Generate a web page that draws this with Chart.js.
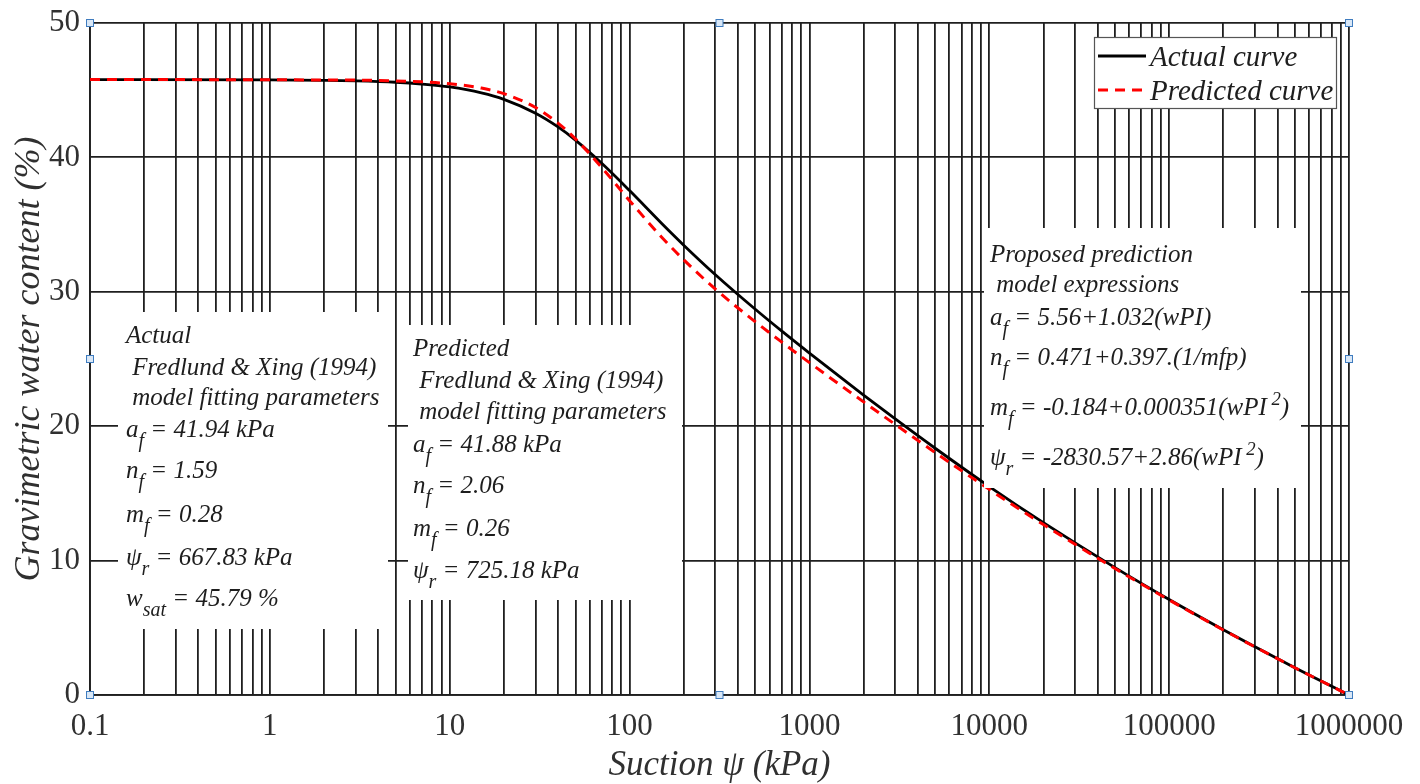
<!DOCTYPE html>
<html>
<head>
<meta charset="utf-8">
<script src="https://cdn.jsdelivr.net/npm/chart.js@4.4.1/dist/chart.umd.min.js"></script>
<style>
  html, body { margin: 0; padding: 0; background: #fff; }
  canvas { display: block; }
</style>
</head>
<body>
<canvas id="swccChart" width="1420" height="784"></canvas>
<script>
// values
const suction = [0.1, 1, 2, 3, 5, 7, 10, 15, 20, 30, 40, 50, 70, 100, 150, 200, 300, 500, 700,
    1000, 2000, 3000, 5000, 10000, 20000, 50000, 100000, 200000, 300000, 500000, 700000, 1000000];
const actualWater = [45.79, 45.77, 45.73, 45.69, 45.59, 45.46, 45.24, 44.80, 44.32, 43.29, 42.27, 41.29, 39.56, 37.53, 35.12, 33.47, 31.27, 28.70, 27.09,
    25.44, 22.32, 20.54, 18.36, 15.51, 12.82, 9.48, 7.11, 4.86, 3.59, 2.03, 1.04, 0];
const predictedWater = [45.79, 45.78, 45.76, 45.75, 45.69, 45.62, 45.48, 45.16, 44.74, 43.71, 42.55, 41.38, 39.25, 36.78, 34.10, 32.38, 30.20, 27.77, 26.27,
    24.73, 21.81, 20.13, 18.04, 15.30, 12.68, 9.41, 7.07, 4.84, 3.58, 2.03, 1.04, 0];
const seriesLabels = ['Actual curve', 'Predicted curve'];
const decadeTicks = [0.1, 1, 10, 100, 1000, 10000, 100000, 1000000];
const minorSteps = [2, 3, 4, 5, 6, 7, 8, 9];
const waterTicks = [0, 10, 20, 30, 40, 50];

const SERIF = '"Liberation Serif", "Times New Roman", serif';
const INK = '#1f1f1f';

// note boxes: '_' starts a subscript run, '^' a superscript run
const notes = [
    {
        left: 118, top: 312, right: 388, bottom: 629, x: 126,
        lines: [
            [343, ['Actual']],
            [375, [' Fredlund & Xing (1994)']],
            [405, [' model fitting parameters']],
            [437, ['a', '_f', ' = 41.94 kPa']],
            [478, ['n', '_f', ' = 1.59']],
            [522, ['m', '_f', ' = 0.28']],
            [565, ['\u03c8', '_r', ' = 667.83 kPa']],
            [606, ['w', '_sat', ' = 45.79 %']]
        ]
    },
    {
        left: 408, top: 325, right: 682, bottom: 600, x: 413,
        lines: [
            [356, ['Predicted']],
            [388, [' Fredlund & Xing (1994)']],
            [419, [' model fitting parameters']],
            [452, ['a', '_f', ' = 41.88 kPa']],
            [493, ['n', '_f', ' = 2.06']],
            [536, ['m', '_f', ' = 0.26']],
            [578, ['\u03c8', '_r', ' = 725.18 kPa']]
        ]
    },
    {
        left: 984, top: 228, right: 1301, bottom: 488, x: 990,
        lines: [
            [262, ['Proposed prediction']],
            [292, [' model expressions']],
            [325, ['a', '_f', ' = 5.56+1.032(wPI)']],
            [365, ['n', '_f', ' = 0.471+0.397.(1/mfp)']],
            [415, ['m', '_f', ' = -0.184+0.000351(wPI', '^ 2', ')']],
            [465, ['\u03c8', '_r', ' = -2830.57+2.86(wPI', '^ 2', ')']]
        ]
    }
];

const drawRuns = (ctx, x, y, runs, size) => {
    let cx = x;
    runs.forEach(run => {
        let text = run;
        let s = size;
        let dy = 0;
        if (run[0] === '_') { text = run.slice(1); s = size * 0.8; dy = size * 0.4; }
        if (run[0] === '^') { text = run.slice(1); s = size * 0.75; dy = -size * 0.4; }
        ctx.font = 'italic ' + s + 'px ' + SERIF;
        ctx.fillText(text, cx, y + dy);
        cx += ctx.measureText(text).width;
    });
};

const overlays = {
    id: 'overlays',
    afterDatasetsDraw: (chart) => {
        const ctx = chart.ctx;
        ctx.save();
        ctx.textAlign = 'left';
        ctx.textBaseline = 'alphabetic';
        notes.forEach(note => {
            ctx.fillStyle = '#fff';
            ctx.fillRect(note.left, note.top, note.right - note.left, note.bottom - note.top);
            ctx.fillStyle = '#1e1e1e';
            note.lines.forEach(([y, runs]) => drawRuns(ctx, note.x, y, runs, 25));
        });

        // legend box
        const lx = 1094, ly = 37, lw = 242, lh = 71;
        ctx.fillStyle = '#fff';
        ctx.fillRect(lx, ly, lw, lh);
        ctx.strokeStyle = '#555';
        ctx.lineWidth = 1.2;
        ctx.strokeRect(lx + 0.5, ly + 0.5, lw, lh);
        chart.data.datasets.forEach((ds, i) => {
            const y = ly + 19 + i * 34;
            ctx.strokeStyle = ds.borderColor;
            ctx.lineWidth = ds.borderWidth;
            ctx.setLineDash(ds.borderDash || []);
            ctx.beginPath();
            ctx.moveTo(lx + 4, y);
            ctx.lineTo(lx + 52, y);
            ctx.stroke();
            ctx.setLineDash([]);
            ctx.fillStyle = '#1e1e1e';
            ctx.font = 'italic 29px ' + SERIF;
            ctx.fillText(ds.label, lx + 56, y + 10);
        });
        ctx.restore();
    },
    afterDraw: (chart) => {
        // selection handles around the picture
        const { left, right, top, bottom } = chart.chartArea;
        const cx = (left + right) / 2, cy = (top + bottom) / 2;
        const pts = [[left, top], [cx, top], [right, top], [left, cy], [right, cy], [left, bottom], [cx, bottom], [right, bottom]];
        const ctx = chart.ctx;
        ctx.save();
        pts.forEach(([x, y]) => {
            ctx.fillStyle = '#d9e7f6';
            ctx.fillRect(x - 3.5, y - 3.5, 7, 7);
            ctx.strokeStyle = '#3f7cbf';
            ctx.lineWidth = 1;
            ctx.strokeRect(x - 3.5, y - 3.5, 7, 7);
        });
        ctx.restore();
    }
};

const data = {
    datasets: [
        {
            label: seriesLabels[0],
            data: suction.map((s, i) => ({ x: s, y: actualWater[i] })),
            borderColor: '#000000',
            borderWidth: 2.8,
            pointRadius: 0,
            cubicInterpolationMode: 'monotone',
            order: 1
        },
        {
            label: seriesLabels[1],
            data: suction.map((s, i) => ({ x: s, y: predictedWater[i] })),
            borderColor: '#ff0000',
            borderWidth: 3,
            borderDash: [10, 7],
            pointRadius: 0,
            cubicInterpolationMode: 'monotone',
            order: 0
        }
    ]
};

const config = {
    type: 'line',
    data: data,
    plugins: [overlays],
    options: {
        responsive: false,
        animation: false,
        layout: {
            padding: { top: 23, right: 71, bottom: 0, left: 0 }
        },
        plugins: {
            legend: { display: false },
            tooltip: { enabled: false }
        },
        scales: {
            x: {
                type: 'logarithmic',
                min: 0.1,
                max: 1000000,
                afterBuildTicks: (scale) => {
                    const ticks = [];
                    decadeTicks.forEach((d, i) => {
                        ticks.push({ value: d });
                        if (i < decadeTicks.length - 1) {
                            minorSteps.forEach(m => ticks.push({ value: d * m }));
                        }
                    });
                    scale.ticks = ticks;
                },
                afterFit: (scale) => { scale.height = 89; },
                ticks: {
                    autoSkip: false,
                    maxRotation: 0,
                    padding: 13,
                    color: '#303030',
                    font: { family: SERIF, size: 31 },
                    callback: (value) => decadeTicks.includes(value) ? String(value) : ''
                },
                grid: { color: INK, lineWidth: 1.8, drawTicks: false },
                border: { color: INK, width: 1.8 },
                title: {
                    display: true,
                    text: 'Suction \u03c8 (kPa)',
                    color: '#303030',
                    font: { family: SERIF, size: 35, style: 'italic', lineHeight: 1 },
                    padding: { top: 0, bottom: 0.5 }
                }
            },
            y: {
                min: 0,
                max: 50,
                afterBuildTicks: (scale) => { scale.ticks = waterTicks.map(v => ({ value: v })); },
                afterFit: (scale) => { scale.width = 90; },
                ticks: {
                    padding: 10,
                    color: '#303030',
                    font: { family: SERIF, size: 31, lineHeight: 0.8 }
                },
                grid: { color: INK, lineWidth: 1.8, drawTicks: false },
                border: { color: INK, width: 1.8 },
                title: {
                    display: true,
                    text: 'Gravimetric water content (%)',
                    color: '#303030',
                    font: { family: SERIF, size: 36, style: 'italic', lineHeight: 1 },
                    padding: { top: 12, bottom: 0 }
                }
            }
        }
    }
};

new Chart(document.getElementById('swccChart'), config);
</script>
</body>
</html>
